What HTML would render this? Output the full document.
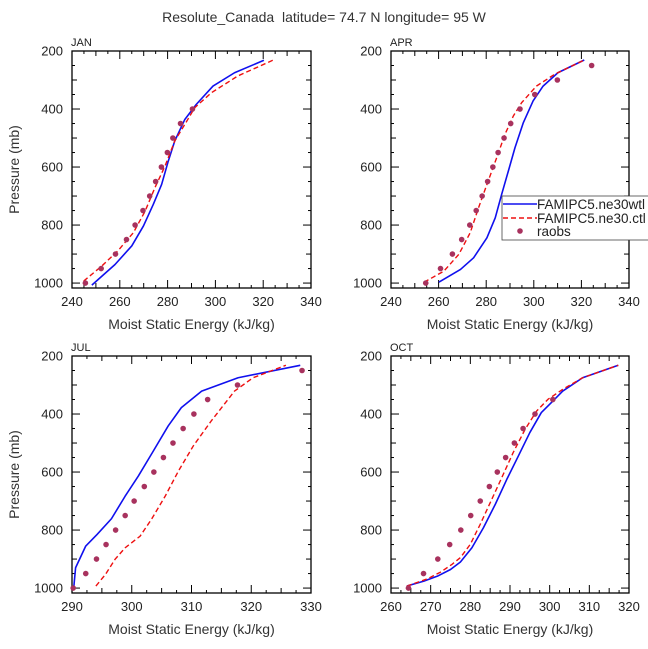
<!DOCTYPE html>
<html><head><meta charset="utf-8"><style>
body{margin:0;background:#fff}
svg{display:block;font-family:"Liberation Sans","DejaVu Sans",sans-serif}
</style></head><body>
<svg id="chart" width="648" height="649" viewBox="0 0 648 649">
<text x="324" y="22" text-anchor="middle" font-size="14" fill="#333" xml:space="preserve">Resolute_Canada  latitude= 74.7 N longitude= 95 W</text>
</svg>
<script>
const panelNames=["JAN","APR","JUL","OCT"];
const xRanges=[[240,340],[240,340],[290,330],[260,320]];
const xMajor=[20,20,10,10];
const pressureTicks=[200,400,600,800,1000];
const janBlueP=[1007,936,872,803,729,660,579,510,436,384,321,275,232];
const janBlueE=[248.3,258,265,269.9,274,277.5,280.3,283,287.2,292,299,308,320.3];
const janRedP=[993,941,887,826,752,671,597,510,453,395,344,286,232];
const janRedE=[244.9,252.5,259.4,265.7,270.6,274.7,278.9,283,287.2,291.4,298.3,309.4,324];
const janObsP=[1000,950,900,850,800,750,700,650,600,550,500,450,400];
const janObsE=[245.6,252.2,258.2,262.8,266.4,269.7,272.5,275,277.4,279.9,282.2,285.4,290.4];
const aprBlueP=[997,953,913,844,775,694,614,533,447,372,321,275,231];
const aprBlueE=[260.1,269.2,274.7,280.3,283.8,286.5,289.3,292.1,295.6,299.7,303.9,310.1,321.2];
const aprRedP=[997,959,901,826,740,660,568,487,424,378,321,280,231];
const aprRedE=[253.9,262.2,268.5,273.3,276.8,280.3,284.4,287.9,291.4,294.9,301.1,308.8,321.2];
const aprObsP=[1000,950,900,850,800,750,700,650,600,550,500,450,400,350,300,250];
const aprObsE=[254.6,260.8,265.8,269.7,273.1,275.8,278.3,280.6,282.8,285,287.5,290.3,294.2,300.4,309.9,324.3];
const julBlueP=[997,930,855,815,761,683,614,528,441,378,321,275,232];
const julBlueE=[290.3,290.6,292.3,294.2,296.6,298.9,301.1,303.6,306.1,308.3,311.7,317.8,328.2];
const julRedP=[993,953,901,861,821,763,683,597,510,424,321,275,232];
const julRedE=[294,295.6,297.2,298.9,301.4,303.3,305.6,307.8,310.3,313.3,317.2,320.3,325.8];
const julObsP=[1000,950,900,850,800,750,700,650,600,550,500,450,400,350,300,250];
const julObsE=[290.2,292.3,294.1,295.7,297.3,298.9,300.4,302.1,303.7,305.3,306.9,308.6,310.4,312.7,317.7,328.5];
const octBlueP=[993,976,959,936,910,861,792,711,625,545,464,395,361,321,275,232];
const octBlueE=[264,268.3,271.7,275,277.5,280.4,283.3,286.3,289.2,292.1,295,297.9,300.4,303.3,308.3,317.3];
const octRedP=[993,968,945,918,895,849,780,706,620,533,453,390,349,315,275,232];
const octRedE=[264,269.2,272.5,275.4,277.5,280,282.5,285,287.9,290.8,293.8,296.7,299.6,303.3,308.3,317.3];
const octObsP=[1000,950,900,850,800,750,700,650,600,550,500,450,400,350];
const octObsE=[264.4,268.2,271.8,274.8,277.6,280.1,282.5,284.8,286.8,288.9,291.1,293.3,296.3,300.8];

const svg=document.getElementById('chart');
const NS='http://www.w3.org/2000/svg';
function mk(tag,attrs,parent){const e=document.createElementNS(NS,tag);for(const k in attrs)e.setAttribute(k,attrs[k]);(parent||svg).appendChild(e);return e;}
const frames=[[72,311,51,288],[391,629,51,288],[72,311,356,593],[391,629,356,593]];
const blues=[[janBlueP,janBlueE],[aprBlueP,aprBlueE],[julBlueP,julBlueE],[octBlueP,octBlueE]];
const reds=[[janRedP,janRedE],[aprRedP,aprRedE],[julRedP,julRedE],[octRedP,octRedE]];
const obs=[[janObsP,janObsE],[aprObsP,aprObsE],[julObsP,julObsE],[octObsP,octObsE]];
const pMin=200,pMax=1017;
panelNames.forEach((nm,i)=>{
  const [L,R,T,B]=frames[i];const [x0,x1]=xRanges[i];
  const g=mk('g',{});
  
  
  const sx=v=>L+(v-x0)/(x1-x0)*(R-L);
  const sy=p=>T+(p-pMin)/(pMax-pMin)*(B-T);
  const fr=mk('rect',{x:L,y:T,width:R-L,height:B-T,fill:'none',stroke:'#000','stroke-width':1.3},g);
  
  
  for(let p=200;p<=1000;p+=50){
    const y=sy(p);const major=p%200===0;const len=major?8:(p%100===0?5:3);
    mk('line',{x1:L,x2:L+len,y1:y,y2:y,stroke:'#000'},g);
    mk('line',{x1:R,x2:R-len,y1:y,y2:y,stroke:'#000'},g);
  }
  pressureTicks.forEach(p=>{
    const t=mk('text',{x:L-9,y:sy(p)+4.5,'text-anchor':'end','font-size':13,fill:'#222'},g);
    t.textContent=p;
    
    
  });
  const st=xMajor[i]/4;
  for(let v=x0;v<=x1+1e-6;v+=st){
    const x=sx(v);const k=Math.round((v-x0)/st);const len=k%4===0?8:(k%2===0?5:3);
    mk('line',{x1:x,x2:x,y1:B,y2:B-len,stroke:'#000'},g);
    mk('line',{x1:x,x2:x,y1:T,y2:T+len,stroke:'#000'},g);
    if(k%4===0){
      const t=mk('text',{x:x,y:B+18,'text-anchor':'middle','font-size':13,fill:'#222'},g);
      t.textContent=Math.round(v);
      
      
    }
  }
  const pl=mk('text',{x:L-1,y:T-5,'font-size':11,fill:'#222'},g);pl.textContent=nm;
  
  
  const xt=mk('text',{x:(L+R)/2,y:B+41,'text-anchor':'middle','font-size':14,fill:'#333'},g);
  xt.textContent='Moist Static Energy (kJ/kg)';
  
  
  if(i%2===0){
    const cy=(T+B)/2;
    const yt=mk('text',{x:19,y:cy,'text-anchor':'middle','font-size':14,fill:'#333',transform:`rotate(-90 19 ${cy})`},g);
    yt.textContent='Pressure (mb)';
    
    
  }
  const bp=blues[i][0].map((p,j)=>sx(blues[i][1][j])+','+sy(p)).join(' ');
  const bl=mk('polyline',{points:bp,fill:'none',stroke:'#1010ee','stroke-width':1.6,'stroke-linejoin':'round'},g);
  
  
  const rp=reds[i][0].map((p,j)=>sx(reds[i][1][j])+','+sy(p)).join(' ');
  const rl=mk('polyline',{points:rp,fill:'none',stroke:'#ee1010','stroke-width':1.4,'stroke-dasharray':'5,3','stroke-linejoin':'round'},g);
  
  
  obs[i][0].forEach((p,j)=>{
    const c=mk('circle',{cx:sx(obs[i][1][j]),cy:sy(p),r:2.8,fill:'#a8325e'},g);
    
    
  });
});
const lg=mk('g',{});


mk('rect',{x:502,y:196,width:150,height:44,fill:'#fff',stroke:'#444','stroke-width':0.8},lg);
mk('line',{x1:503,x2:537,y1:204,y2:204,stroke:'#1010ee','stroke-width':1.6},lg);
mk('line',{x1:503,x2:537,y1:218,y2:218,stroke:'#ee1010','stroke-width':1.4,'stroke-dasharray':'5,3'},lg);
mk('circle',{cx:520,cy:231,r:2.8,fill:'#a8325e'},lg);
[['FAMIPC5.ne30wtl',209],['FAMIPC5.ne30.ctl',223],['raobs',236]].forEach(([s,y])=>{
  const t=mk('text',{x:537,y:y,'font-size':13.5,fill:'#222'},lg);t.textContent=s;
  
  
});
</script>
</body></html>
